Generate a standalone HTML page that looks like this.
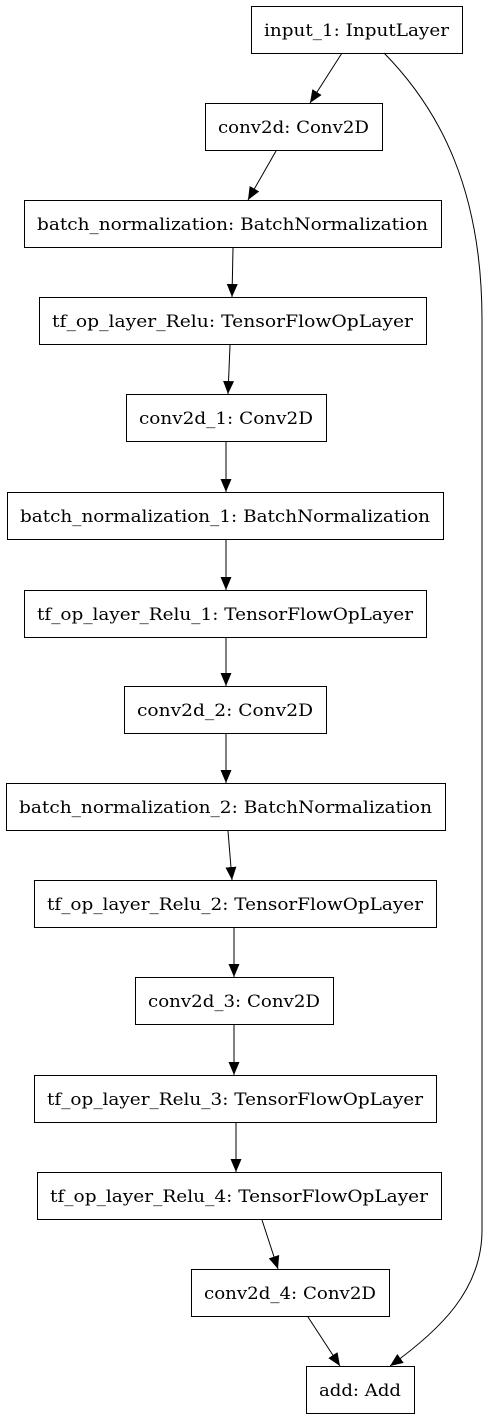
<!DOCTYPE html>
<html><head><meta charset="utf-8"><style>
html,body{margin:0;padding:0;background:#fff}
svg{display:block}
text{font-family:"DejaVu Serif",serif;font-size:17px;fill:#000}
</style></head><body>
<svg id="g" width="486" height="1423" viewBox="0 0 486 1423">
<defs><marker id="ah" markerWidth="14" markerHeight="14" refX="13" refY="6" orient="auto" markerUnits="userSpaceOnUse"><path d="M0,0.5 L13,6 L0,11.5 Z" fill="#000"/></marker></defs>
</svg>
<script>
const labels=["input_1: InputLayer","conv2d: Conv2D","batch_normalization: BatchNormalization","tf_op_layer_Relu: TensorFlowOpLayer","conv2d_1: Conv2D","batch_normalization_1: BatchNormalization","tf_op_layer_Relu_1: TensorFlowOpLayer","conv2d_2: Conv2D","batch_normalization_2: BatchNormalization","tf_op_layer_Relu_2: TensorFlowOpLayer","conv2d_3: Conv2D","tf_op_layer_Relu_3: TensorFlowOpLayer","tf_op_layer_Relu_4: TensorFlowOpLayer","conv2d_4: Conv2D","add: Add"];
const boxX1=[251,205,24,39,126,7,24,124,6,34,135,34,37,191,306];
const boxX2=[462,382,441,426,326,443,426,326,445,436,333,436,441,389,414];
const boxY=[6,103,200,297,394,492,590,686,783,880,977,1075,1172,1269,1366];
const edgeFrom=[[342,53],[276,151],[233,248],[230,345],[226,442],[226,540],[226,638],[226,734],[228,831],[234,928],[234,1025],[236,1123],[262,1220],[308,1317]];
const edgeTo=[[310,103],[248,200],[232,297],[228,394],[226,492],[226,590],[226,686],[226,783],[232,880],[234,977],[234,1075],[236,1172],[278,1269],[340,1366]];
const svg=document.getElementById('g');
const NS="http://www.w3.org/2000/svg";
for(let i=0;i<labels.length;i++){
 const r=document.createElementNS(NS,'rect');
 r.setAttribute('x',boxX1[i]+0.5);r.setAttribute('y',boxY[i]+0.5);
 r.setAttribute('width',boxX2[i]-boxX1[i]);r.setAttribute('height',47);
 r.setAttribute('fill','#fff');r.setAttribute('stroke','#000');r.setAttribute('stroke-width','1');
 
 
 svg.appendChild(r);
 const t=document.createElementNS(NS,'text');
 t.setAttribute('x',(boxX1[i]+boxX2[i])/2);t.setAttribute('y',boxY[i]+30);
 t.setAttribute('text-anchor','middle');t.textContent=labels[i];
 t.setAttribute('textLength',(boxX2[i]-boxX1[i])-26);
 t.setAttribute('lengthAdjust','spacingAndGlyphs');
 
 
 svg.appendChild(t);
}
for(let i=0;i<edgeFrom.length;i++){
 const l=document.createElementNS(NS,'line');
 l.setAttribute('x1',edgeFrom[i][0]);l.setAttribute('y1',edgeFrom[i][1]);
 l.setAttribute('x2',edgeTo[i][0]);l.setAttribute('y2',edgeTo[i][1]);
 l.setAttribute('stroke','#000');l.setAttribute('marker-end','url(#ah)');
 
 
 svg.appendChild(l);
}
const p=document.createElementNS(NS,'path');
p.setAttribute('d','M384,53 C440,110 482,190 482,320 L482,1230 C482,1290 440,1330 390,1366');
p.setAttribute('fill','none');p.setAttribute('stroke','#000');p.setAttribute('marker-end','url(#ah)');


svg.appendChild(p);
</script>
</body></html>
